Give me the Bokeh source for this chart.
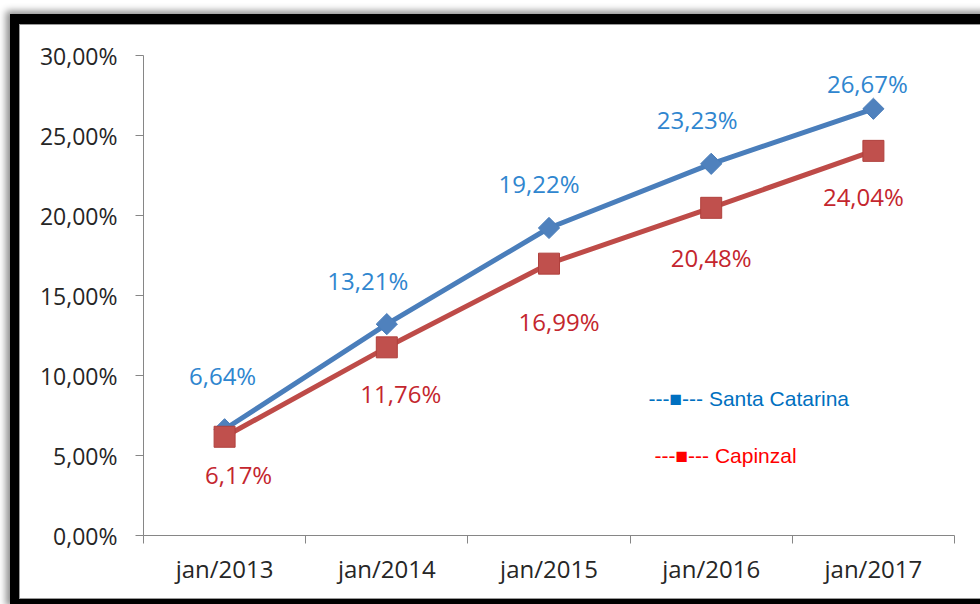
from bokeh.plotting import figure
from bokeh.models import Range1d, FixedTicker, ColumnDataSource, Label
from bokeh.embed import file_html
from bokeh.resources import INLINE
from bokeh.core.properties import value
import math

# ---------------- data ----------------
categories = ["jan/2013", "jan/2014", "jan/2015", "jan/2016", "jan/2017"]
santa_catarina = [6.64, 13.21, 19.22, 23.23, 26.67]
capinzal = [6.17, 11.76, 16.99, 20.48, 24.04]
series_names = ["Santa Catarina", "Capinzal"]
y_ticks = [0, 5, 10, 15, 20, 25, 30]
y_tick_labels = ["0,00%", "5,00%", "10,00%", "15,00%", "20,00%", "25,00%", "30,00%"]

# data-label nudges in screen pixels (manual placement as in the reference)
sc_dx = [-2, -19, -10, -14, -6]
sc_dy = [-54, -44, -44, -44, -25]
cz_dx = [14, 14, 10, 0, -10]
cz_dy = [38, 46, 58, 50, 46]

BLUE_LINE = "#4A7EBB"
BLUE_FILL = "#4F81BD"
RED_LINE = "#BE4B48"
RED_FILL = "#C0504D"
BLUE_TXT = "#2F86CF"
RED_TXT = "#C4262E"
AXIS = "#868686"
FONT = "Open Sans"


def fmt(v):
    return ("%.2f%%" % v).replace(".", ",")


xs = list(range(len(categories)))

# the white chart panel starts at (20, 25) in the window and is framed by a black, shadowed border
p = figure(width=960, height=573, output_backend="svg", toolbar_location=None,
           x_range=Range1d(-0.5, len(categories) - 0.5), y_range=Range1d(0, 30),
           min_border_left=123, min_border_right=26, min_border_top=30, min_border_bottom=63)
p.styles = {
    "margin-left": "20px",
    "margin-top": "25px",
    "box-shadow": "0 0 0 1px #9a9a9a, 0 -1px 0 10px #000000, -3px -3px 7px 11px rgba(0,0,0,0.45)",
}
p.background_fill_color = "white"
p.border_fill_color = "white"
p.outline_line_color = None
p.xgrid.visible = False
p.ygrid.visible = False

# ---------------- axes ----------------
p.yaxis.ticker = FixedTicker(ticks=y_ticks)
p.yaxis.major_label_overrides = {t: l for t, l in zip(y_ticks, y_tick_labels)}
p.yaxis.axis_line_color = AXIS
p.yaxis.major_tick_line_color = AXIS
p.yaxis.major_tick_out = 8
p.yaxis.major_tick_in = 0
p.yaxis.minor_tick_line_color = None
p.yaxis.major_label_standoff = 18
p.yaxis.major_label_text_font = FONT
p.yaxis.major_label_text_font_size = "23px"
p.yaxis.major_label_text_color = "#262626"

p.xaxis.ticker = FixedTicker(ticks=xs, minor_ticks=[i - 0.5 for i in range(len(categories) + 1)])
p.xaxis.major_label_overrides = {i: c for i, c in zip(xs, categories)}
p.xaxis.axis_line_color = AXIS
p.xaxis.major_tick_line_color = None
p.xaxis.major_tick_out = 8
p.xaxis.major_tick_in = 0
p.xaxis.minor_tick_line_color = AXIS
p.xaxis.minor_tick_out = 8
p.xaxis.minor_tick_in = 0
p.xaxis.major_label_standoff = 8
p.xaxis.major_label_text_font = FONT
p.xaxis.major_label_text_font_size = "24px"
p.xaxis.major_label_text_color = "#262626"

# ---------------- series ----------------
src_sc = ColumnDataSource(dict(x=xs, y=santa_catarina, t=[fmt(v) for v in santa_catarina], dx=sc_dx, dy=sc_dy))
src_cz = ColumnDataSource(dict(x=xs, y=capinzal, t=[fmt(v) for v in capinzal], dx=cz_dx, dy=cz_dy))

p.line("x", "y", source=src_sc, line_color=BLUE_LINE, line_width=5)
p.line("x", "y", source=src_cz, line_color=RED_LINE, line_width=5)
p.scatter("x", "y", source=src_sc, marker="square", angle=math.pi / 4, size=15,
          fill_color=BLUE_FILL, line_color=BLUE_LINE, line_width=1)
p.scatter("x", "y", source=src_cz, marker="square", size=21,
          fill_color=RED_FILL, line_color="#B0403D", line_width=1)

p.text("x", "y", text="t", source=src_sc, x_offset="dx", y_offset="dy",
       text_align="center", text_baseline="middle", text_color=BLUE_TXT,
       text_font=value(FONT), text_font_size="24px")
p.text("x", "y", text="t", source=src_cz, x_offset="dx", y_offset="dy",
       text_align="center", text_baseline="middle", text_color=RED_TXT,
       text_font=value(FONT), text_font_size="24px")

# ---------------- legend text boxes ----------------
p.add_layout(Label(x=2.613, y=8.56, text="---\u25a0--- " + series_names[0],
                   text_font="Liberation Sans", text_font_size="21px",
                   text_color="#0070C0", text_baseline="middle", text_align="left"))
p.add_layout(Label(x=2.65, y=5.0, text="---\u25a0--- " + series_names[1],
                   text_font="Liberation Sans", text_font_size="21px",
                   text_color="#FF0000", text_baseline="middle", text_align="left"))

open("out.html", "w").write(file_html(p, INLINE))
